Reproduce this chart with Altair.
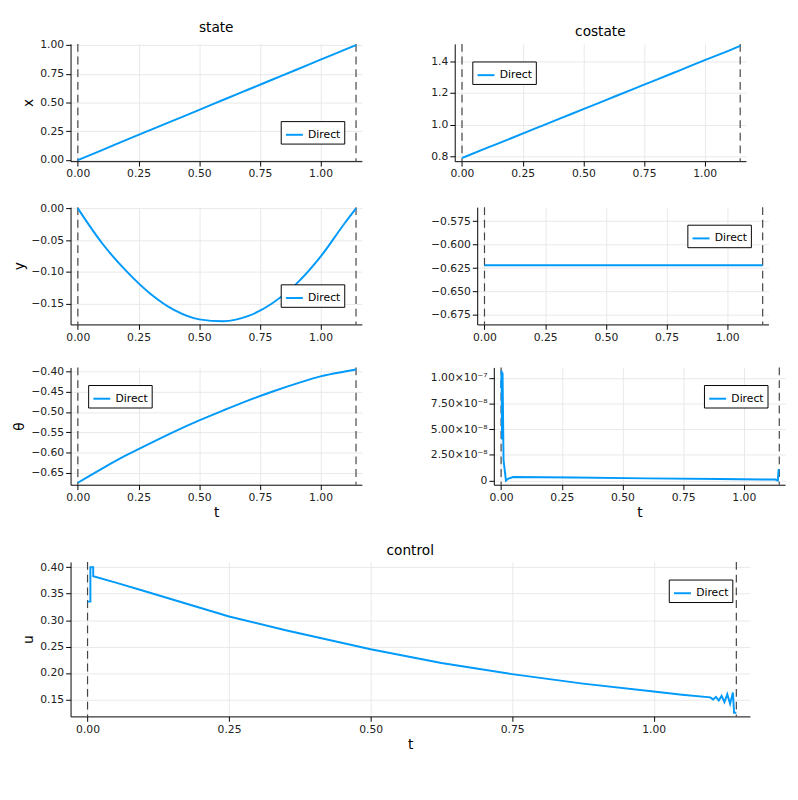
import altair as alt
import pandas as pd

TF = 1.146
t_main = [0, 0.1, 0.2, 0.3, 0.4, 0.5, 0.6, 0.7, 0.8, 0.9, 1.0, 1.1, 1.146]
x_vals = [0, 0.087, 0.175, 0.262, 0.349, 0.436, 0.524, 0.611, 0.698, 0.785, 0.873, 0.960, 1.0]
y_vals = [0, -0.055, -0.099, -0.135, -0.161, -0.175, -0.178, -0.170, -0.150, -0.119, -0.076, -0.023, 0]
th_vals = [-0.675, -0.640, -0.607, -0.577, -0.548, -0.521, -0.496, -0.472, -0.450, -0.430, -0.412, -0.400, -0.395]
p1_vals = [0.79, 0.852, 0.913, 0.975, 1.037, 1.098, 1.160, 1.222, 1.283, 1.345, 1.407, 1.468, 1.497]
p2_vals = [-0.622] * 13
t_p3 = [0, 0.002, 0.004, 0.006, 0.01, 0.02, 0.03, 0.05, 0.3, 0.6, 0.9, 1.13, 1.14, 1.143, 1.146]
p3_vals = [9e-8, 1.07e-7, 4e-8, 1.05e-7, 2e-8, 0, 2e-9, 3.5e-9, 3e-9, 2.2e-9, 1.5e-9, 1e-9, 0, 1e-8, 1.1e-8]
t_u = [0, 0.005, 0.005, 0.01, 0.01, 0.05, 0.1, 0.15, 0.2, 0.25, 0.35, 0.5, 0.625, 0.75, 0.875, 1.0, 1.05, 1.1,
       1.105, 1.11, 1.115, 1.12, 1.125, 1.13, 1.135, 1.14, 1.142, 1.146]
u_vals = [0.335, 0.335, 0.40, 0.40, 0.383, 0.371, 0.355, 0.339, 0.323, 0.307, 0.281, 0.245, 0.219, 0.198, 0.180, 0.165,
          0.159, 0.154, 0.150, 0.155, 0.148, 0.157, 0.145, 0.160, 0.142, 0.163, 0.125, 0.125]

BLUE = "#009AFA"
XDOM = [-0.03, 1.17]

def panel(ts, vs, ytitle, ydom, legend, w, h, title=None, xtitle=None, yaxis=None, interp="monotone"):
    df = pd.DataFrame({"t": ts, "v": vs, "i": range(len(ts)), "s": "Direct"})
    yax = yaxis or alt.Axis()
    line = alt.Chart(df).mark_line(strokeWidth=2, clip=True, interpolate=interp).encode(
        x=alt.X("t:Q", scale=alt.Scale(domain=XDOM, nice=False),
                axis=alt.Axis(values=[0, 0.25, 0.5, 0.75, 1.0], format=".2f"),
                title=xtitle),
        y=alt.Y("v:Q", scale=alt.Scale(domain=ydom, nice=False, zero=False), axis=yax, title=ytitle),
        order="i:Q",
        color=alt.Color("s:N", scale=alt.Scale(range=[BLUE]),
                        legend=alt.Legend(title=None, orient=legend, strokeColor="black",
                                          fillColor="white", symbolType="stroke",
                                          symbolStrokeWidth=2, labelFontSize=11, padding=4,
                                          symbolSize=300)),
    )
    rules = alt.Chart(pd.DataFrame({"t": [0, TF]})).mark_rule(
        color="#444", strokeDash=[8, 5], strokeWidth=1.2).encode(x="t:Q")
    ch = alt.layer(rules, line).properties(width=w, height=h)
    if title:
        ch = ch.properties(title=title)
    return ch

W, H = 298, 120
p3_axis = alt.Axis(values=[0, 2.5e-8, 5e-8, 7.5e-8, 1e-7],
                   labelExpr="datum.value==0 ? '0' : datum.value==2.5e-8 ? '2.50×10⁻⁸' : datum.value==5e-8 ? '5.00×10⁻⁸' : datum.value==7.5e-8 ? '7.50×10⁻⁸' : '1.00×10⁻⁷'")

r1 = alt.hconcat(
    panel(t_main, x_vals, "x", [-0.01, 1.01], "bottom-right", W, H, title="state",
          yaxis=alt.Axis(values=[0, 0.25, 0.5, 0.75, 1.0], format=".2f")),
    panel(t_main, p1_vals, None, [0.77, 1.51], "top-left", W, H, title="costate",
          yaxis=alt.Axis(values=[0.8, 1.0, 1.2, 1.4], format=".1f")),
    spacing=70).resolve_scale(color="independent")
r2 = alt.hconcat(
    panel(t_main, y_vals, "y", [-0.183, 0.002], "bottom-right", W, H,
          yaxis=alt.Axis(values=[0, -0.05, -0.1, -0.15], format=".2f")),
    panel(t_main, p2_vals, None, [-0.685, -0.56], "top-right", W, H,
          yaxis=alt.Axis(values=[-0.575, -0.6, -0.625, -0.65, -0.675], format=".3f")),
    spacing=70).resolve_scale(color="independent")
r3 = alt.hconcat(
    panel(t_main, th_vals, "θ", [-0.68, -0.39], "top-left", W, H, xtitle="t",
          yaxis=alt.Axis(values=[-0.4, -0.45, -0.5, -0.55, -0.6, -0.65], format=".2f")),
    panel(t_p3, p3_vals, None, [-4e-9, 1.1e-7], "top-right", W, H, xtitle="t", yaxis=p3_axis, interp="linear"),
    spacing=70).resolve_scale(color="independent")
r4 = panel(t_u, u_vals, "u", [0.118, 0.41], "top-right", 695, 158, title="control", xtitle="t",
           yaxis=alt.Axis(values=[0.15, 0.2, 0.25, 0.3, 0.35, 0.4], format=".2f"), interp="linear")

chart = alt.vconcat(r1, r2, r3, r4, spacing=24).resolve_scale(color="independent").configure_view(
    stroke=None).configure_axis(
    grid=True, gridColor="#e8e8e8", domainColor="black", tickColor="black",
    labelFontSize=11, titleFontSize=14, titleFontWeight="normal", labelColor="#222",
    labelFont="DejaVu Sans", titleFont="DejaVu Sans").configure_title(
    fontSize=14, fontWeight="normal", font="DejaVu Sans").configure_legend(
    labelFont="DejaVu Sans").properties(background="white")

chart.save("out.html", embed_options={"renderer": "svg", "actions": False})
